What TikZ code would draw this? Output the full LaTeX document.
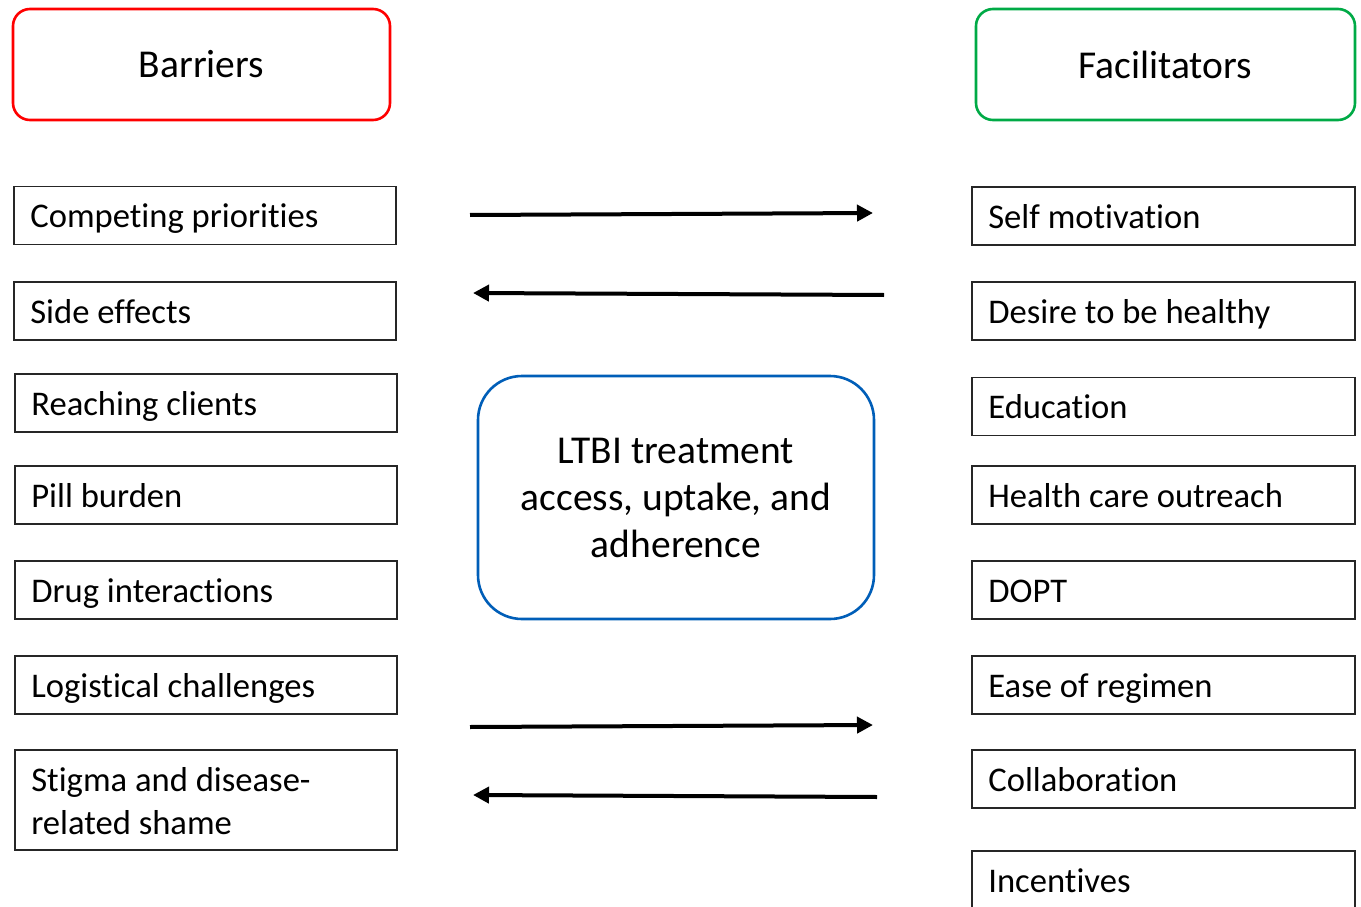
\documentclass[tikz,border=0pt]{standalone}
\usepackage{fontspec}
\setmainfont{Carlito}[Ligatures=NoCommon]
\usetikzlibrary{arrows.meta,calc}
\definecolor{barred}{RGB}{255,0,0}
\definecolor{facgreen}{RGB}{0,170,70}
\definecolor{ctrblue}{RGB}{0,94,184}
\begin{document}
\begin{tikzpicture}[x=1pt,y=-1pt,
  titlebox/.style={draw, line width=2.6pt, rounded corners=17pt, minimum width=377pt, minimum height=111pt, inner sep=0pt, font=\fontsize{39.5}{47}\selectfont},
  itembox/.style={draw=black!85, line width=1.7pt, minimum width=382pt, minimum height=58pt, inner sep=0pt},
  itemtxt/.style={anchor=base west, inner sep=0pt, font=\fontsize{34.6}{43}\selectfont},
  centerbox/.style={draw=ctrblue, line width=2.6pt, rounded corners=44pt, minimum width=396pt, minimum height=243pt, align=center, inner sep=0pt, font=\fontsize{39.5}{47}\selectfont},
  flow/.style={line width=4pt, -{Triangle[length=16pt,width=16pt]}}
]
\clip (0,0) rectangle (1361,907);
\fill[white] (0,0) rectangle (1361,907);

% titles
\node[titlebox, draw=barred] (bar) at (201.5,64.5) {Barriers};
\node[titlebox, draw=facgreen, minimum width=379pt] (fac) at (1165.5,64.5) {Facilitators};

% centre
\node[centerbox] (ctr) at (676,497.5) {LTBI treatment\\access, uptake, and\\adherence};

% barriers
\node[itembox] (b1) at (205,215.5) {};
\node[itemtxt] (t1) at ($(b1.west)+(17,12)$) {Competing priorities};
\node[itembox] (b2) at (205,311) {};
\node[itemtxt] (t2) at ($(b2.west)+(17,12)$) {Side effects};
\node[itembox] (b3) at (206,403) {};
\node[itemtxt] (t3) at ($(b3.west)+(17,12)$) {Reaching clients};
\node[itembox] (b4) at (206,495) {};
\node[itemtxt] (t4) at ($(b4.west)+(17,12)$) {Pill burden};
\node[itembox] (b5) at (206,590) {};
\node[itemtxt] (t5) at ($(b5.west)+(17,12)$) {Drug interactions};
\node[itembox] (b6) at (206,685) {};
\node[itemtxt] (t6) at ($(b6.west)+(17,12)$) {Logistical challenges};
\node[itembox, minimum height=100pt] (b7) at (206,800) {};
\node[itemtxt, anchor=west, align=left] (t7) at ($(b7.west)+(17,1)$) {Stigma and disease-\\related shame};

% facilitators
\node[itembox, minimum width=383pt] (f1) at (1163.5,216) {};
\node[itemtxt] (u1) at ($(f1.west)+(17,12)$) {Self motivation};
\node[itembox, minimum width=383pt] (f2) at (1163.5,311) {};
\node[itemtxt] (u2) at ($(f2.west)+(17,12)$) {Desire to be healthy};
\node[itembox, minimum width=383pt] (f3) at (1163.5,406.5) {};
\node[itemtxt] (u3) at ($(f3.west)+(17,12)$) {Education};
\node[itembox, minimum width=383pt] (f4) at (1163.5,495) {};
\node[itemtxt] (u4) at ($(f4.west)+(17,12)$) {Health care outreach};
\node[itembox, minimum width=383pt] (f5) at (1163.5,590) {};
\node[itemtxt] (u5) at ($(f5.west)+(17,12)$) {DOPT};
\node[itembox, minimum width=383pt] (f6) at (1163.5,685) {};
\node[itemtxt] (u6) at ($(f6.west)+(17,12)$) {Ease of regimen};
\node[itembox, minimum width=383pt] (f7) at (1163.5,779) {};
\node[itemtxt] (u7) at ($(f7.west)+(17,12)$) {Collaboration};
\node[itembox, minimum width=383pt] (f8) at (1163.5,880) {};
\node[itemtxt] (u8) at ($(f8.west)+(17,12)$) {Incentives};

% arrows
\coordinate (a1s) at (470,215);
\coordinate (a1e) at (873,213);
\coordinate (a2s) at (884,295);
\coordinate (a2e) at (473,293);
\coordinate (a3s) at (470,727);
\coordinate (a3e) at (873,725);
\coordinate (a4s) at (877,797);
\coordinate (a4e) at (473,795);
\draw[flow] (a1s) -- (a1e);
\draw[flow] (a2s) -- (a2e);
\draw[flow] (a3s) -- (a3e);
\draw[flow] (a4s) -- (a4e);
\end{tikzpicture}
\end{document}
